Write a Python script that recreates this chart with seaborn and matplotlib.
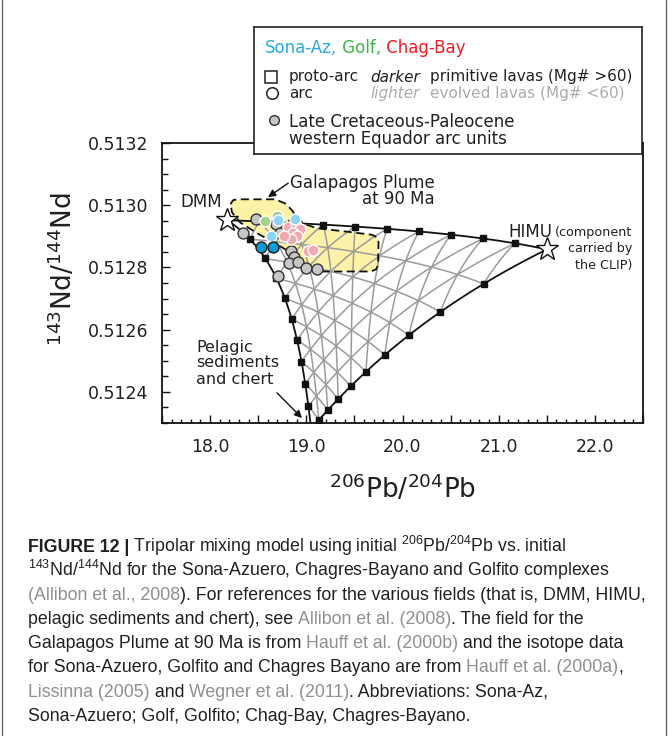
import numpy as np
import pandas as pd
import matplotlib
matplotlib.use("Agg")
import matplotlib.pyplot as plt
import seaborn as sns
from matplotlib import font_manager
from matplotlib.patches import Polygon
from matplotlib.ticker import FixedLocator, FuncFormatter, MultipleLocator

# ---------------- data ----------------
# end members of the tripolar mixing model (206Pb/204Pb, 143Nd/144Nd, relative Pb and Nd contents)
endmember_names = ["DMM", "HIMU", "Pelagic sediments and chert"]
endmember_pb = [18.18, 21.50, 19.05]
endmember_nd = [0.512952, 0.512858, 0.512281]
endmember_pb_conc = [1.0, 1.0, 3.3]
endmember_nd_conc = [1.0, 0.42, 0.90]
mix_steps = [0.1, 0.2, 0.3, 0.4, 0.5, 0.6, 0.7, 0.8, 0.9]

# Galapagos Plume at 90 Ma field
galapagos_pb = [18.212, 18.238, 18.280, 18.675, 18.779, 18.851, 18.914, 18.986, 19.111, 19.423,
                19.683, 19.735, 19.751, 19.745, 19.725, 19.673, 19.142, 19.049, 18.966, 18.799,
                18.623, 18.488, 18.311, 18.228]
galapagos_nd = [0.513003, 0.513016, 0.513019, 0.513019, 0.513006, 0.512984, 0.512955, 0.512939,
                0.512926, 0.512915, 0.512905, 0.512897, 0.512881, 0.512806, 0.512794, 0.512787,
                0.512787, 0.512794, 0.512806, 0.512855, 0.512887, 0.512910, 0.512945, 0.512977]

# Late Cretaceous-Paleocene western Ecuador arc units
ecuador_pb = [18.482, 18.337, 18.685, 18.727, 18.841, 18.872, 18.815, 18.914, 18.997, 19.111, 18.706]
ecuador_nd = [0.512955, 0.512910, 0.512939, 0.512910, 0.512852, 0.512832, 0.512813, 0.512816,
              0.512798, 0.512795, 0.512774]
# Chagres-Bayano, evolved arc lavas
chag_pb = [18.810, 18.893, 18.935, 18.862, 18.903, 18.841, 18.768, 19.018, 19.070]
chag_nd = [0.512929, 0.512935, 0.512923, 0.512910, 0.512900, 0.512890, 0.512900, 0.512852, 0.512855]
# Golfito, evolved arc lavas
golf_pb = [18.571, 18.692]
golf_nd = [0.512948, 0.512965]
# Sona-Azuero, evolved arc lavas
sona_evolved_pb = [18.709, 18.883, 18.630]
sona_evolved_nd = [0.512954, 0.512957, 0.512900]
# Sona-Azuero, primitive arc lavas
sona_primitive_pb = [18.529, 18.651]
sona_primitive_nd = [0.512866, 0.512866]

x_tick_values = [18.0, 19.0, 20.0, 21.0, 22.0]
x_tick_labels = ["18.0", "19.0", "20.0", "21.0", "22.0"]
y_tick_values = [0.5124, 0.5126, 0.5128, 0.5130, 0.5132]
y_tick_labels = ["0.5124", "0.5126", "0.5128", "0.5130", "0.5132"]

caption_lines = [
    [("FIGURE 12 |", "dark", "bold"),
     (" Tripolar mixing model using initial $^{\\mathregular{206}}$Pb/$^{\\mathregular{204}}$Pb vs. initial", "dark", "normal")],
    [("$^{\\mathregular{143}}$Nd/$^{\\mathregular{144}}$Nd for the Sona-Azuero, Chagres-Bayano and Golfito complexes", "dark", "normal")],
    [("(Allibon et al., 2008", "link", "normal"),
     ("). For references for the various fields (that is, DMM, HIMU,", "dark", "normal")],
    [("pelagic sediments and chert), see ", "dark", "normal"), ("Allibon et al. (2008)", "link", "normal"),
     (". The field for the", "dark", "normal")],
    [("Galapagos Plume at 90 Ma is from ", "dark", "normal"), ("Hauff et al. (2000b)", "link", "normal"),
     (" and the isotope data", "dark", "normal")],
    [("for Sona-Azuero, Golfito and Chagres Bayano are from ", "dark", "normal"),
     ("Hauff et al. (2000a)", "link", "normal"), (",", "dark", "normal")],
    [("Lissinna (2005)", "link", "normal"), (" and ", "dark", "normal"), ("Wegner et al. (2011)", "link", "normal"),
     (". Abbreviations: Sona-Az,", "dark", "normal")],
    [("Sona-Azuero; Golf, Golfito; Chag-Bay, Chagres-Bayano.", "dark", "normal")],
]

# ---------------- style ----------------
sns.set_style("ticks")
plt.rcParams["font.family"] = ["DejaVu Sans"]
plt.rcParams["mathtext.fontset"] = "dejavusans"
DARK = "#231f20"
LINK = "#8f8f8f"

W, H = 670, 736
fig = plt.figure(figsize=(W / 100, H / 100), dpi=100)
renderer = fig.canvas.get_renderer()

# full-figure overlay in pixel units (caption, border)
cap = fig.add_axes([0, 0, 1, 1], zorder=-5)
cap.set_xlim(0, W)
cap.set_ylim(H, 0)
cap.axis("off")

ax = fig.add_axes([162 / W, 1 - 423 / H, (643 - 162) / W, (423 - 143) / H], zorder=1)
ax.set_xlim(17.5, 22.5)
ax.set_ylim(0.5123, 0.5132)

# ---------------- mixing model ----------------
pb_e = np.array(endmember_pb)
nd_e = np.array(endmember_nd)
cpb = np.array(endmember_pb_conc)
cnd = np.array(endmember_nd_conc)


def mix(F):
    F = np.asarray(F, dtype=float)
    wp = F * cpb
    wn = F * cnd
    return (wp @ pb_e) / wp.sum(1), (wn @ nd_e) / wn.sum(1)


t = np.linspace(0, 1, 300)[:, None]
# interior grid lines (constant fraction of each component)
for a in mix_steps:
    fam = [
        np.hstack([np.full_like(t, a), (1 - a) * (1 - t), (1 - a) * t]),
        np.hstack([(1 - a) * (1 - t), np.full_like(t, a), (1 - a) * t]),
        np.hstack([(1 - a) * (1 - t), (1 - a) * t, np.full_like(t, a)]),
    ]
    for F in fam:
        gx, gy = mix(F)
        ax.plot(gx, gy, color="#9b9b9b", lw=1.1, zorder=2, solid_capstyle="butt")

# boundaries
z0 = np.zeros_like(t)
bounds = [np.hstack([1 - t, t, z0]), np.hstack([1 - t, z0, t]), np.hstack([z0, 1 - t, t])]
for F in bounds:
    bx, by = mix(F)
    ax.plot(bx, by, color="#111111", lw=1.3, zorder=3)

s = np.array(mix_steps)[:, None]
z1 = np.zeros_like(s)
for F in [np.hstack([1 - s, s, z1]), np.hstack([1 - s, z1, s]), np.hstack([z1, 1 - s, s])]:
    sx, sy = mix(F)
    ax.plot(sx, sy, ls="none", marker="s", ms=4, mfc="#111111", mec="#111111", zorder=4, clip_on=True)

# Galapagos field
poly = Polygon(np.column_stack([galapagos_pb, galapagos_nd]), closed=True,
               facecolor="#fdf2a6", edgecolor="none", zorder=1)
ax.add_patch(poly)
poly2 = Polygon(np.column_stack([galapagos_pb, galapagos_nd]), closed=True, fill=False,
                edgecolor="#111111", lw=1.3, linestyle=(0, (4.5, 2.5)), zorder=3.5)
ax.add_patch(poly2)

# ---------------- samples ----------------
groups = [
    (ecuador_pb, ecuador_nd, "#c6c6c6", "#333333"),
    (chag_pb, chag_nd, "#f4a8b0", "#ffffff"),
    (golf_pb, golf_nd, "#a3d08a", "#ffffff"),
    (sona_evolved_pb, sona_evolved_nd, "#8dd3f5", "#ffffff"),
    (sona_primitive_pb, sona_primitive_nd, "#0b9ad6", "#1a1a1a"),
]
for i, (gx, gy, fc, ec) in enumerate(groups):
    df = pd.DataFrame({"pb": gx, "nd": gy})
    sns.scatterplot(data=df, x="pb", y="nd", color=fc, edgecolor=ec, linewidth=1.0, s=62,
                    ax=ax, zorder=6 + i * 0.1, legend=False)

# end-member stars (DMM, HIMU)
ax.plot(endmember_pb[:2], endmember_nd[:2], ls="none", marker="*", ms=17, mfc="white",
        mec="#111111", mew=1.0, zorder=7)

# ---------------- annotations ----------------
ax.text(17.905, 0.513011, "DMM", fontsize=12, color=DARK, ha="center", va="center", zorder=8)
ax.text(18.831, 0.513071, "Galapagos Plume", fontsize=12, color=DARK, ha="left", va="center", zorder=8)
ax.text(20.338, 0.513019, "at 90 Ma", fontsize=12, color=DARK, ha="right", va="center", zorder=8)
ax.annotate("", xy=(18.602, 0.513026), xytext=(18.812, 0.513071),
            arrowprops=dict(arrowstyle="-|>", color="#111111", lw=1.0, mutation_scale=11,
                            shrinkA=0, shrinkB=0), zorder=8)
ax.text(21.325, 0.512914, "HIMU", fontsize=12, color=DARK, ha="center", va="center", zorder=8)
for txt, yy in zip(["(component", "carried by", "the CLIP)"], [0.512911, 0.512860, 0.512806]):
    ax.text(22.386, yy, txt, fontsize=9.2, color=DARK, ha="right", va="center", zorder=8)
for txt, yy in zip(["Pelagic", "sediments", "and chert"], [0.512543, 0.512495, 0.512441]):
    ax.text(17.853, yy, txt, fontsize=11.5, color=DARK, ha="left", va="center", zorder=8)
ax.annotate("", xy=(18.955, 0.512316), xytext=(18.695, 0.512397),
            arrowprops=dict(arrowstyle="-|>", color="#111111", lw=1.0, mutation_scale=11,
                            shrinkA=0, shrinkB=0), zorder=8)

# ---------------- axes styling ----------------
xt_map = dict(zip(x_tick_values, x_tick_labels))
yt_map = dict(zip([round(q, 5) for q in y_tick_values], y_tick_labels))
ax.xaxis.set_major_locator(FixedLocator(np.arange(17.5, 22.51, 0.5)))
ax.xaxis.set_major_formatter(FuncFormatter(lambda v, p: xt_map.get(round(v, 1), "")))
ax.xaxis.set_minor_locator(MultipleLocator(0.1))
ax.yaxis.set_major_locator(FixedLocator(y_tick_values))
ax.yaxis.set_major_formatter(FuncFormatter(lambda v, p: yt_map.get(round(v, 5), "")))
ax.yaxis.set_minor_locator(MultipleLocator(0.00005))
ax.tick_params(axis="both", which="both", direction="in", top=False, right=False,
               colors="#111111", labelcolor=DARK, width=1.0)
ax.tick_params(axis="x", which="major", length=6, pad=11, labelsize=12.5)
ax.tick_params(axis="x", which="minor", length=3)
ax.tick_params(axis="y", which="major", length=5.5, pad=10, labelsize=12.5)
ax.tick_params(axis="y", which="minor", length=4)
for sp in ax.spines.values():
    sp.set_visible(True)
    sp.set_linewidth(1.3)
    sp.set_color("#111111")
ax.set_xlabel("$^{206}$Pb/$^{204}$Pb", fontsize=19, color=DARK)
ax.set_ylabel("$^{143}$Nd/$^{144}$Nd", fontsize=19, color=DARK)
ax.xaxis.set_label_coords(0.5, -0.18)
ax.yaxis.set_label_coords(-0.175, 0.55)


# ---------------- rich text helper ----------------
def text_width(s, **kw):
    tt = fig.text(0, 0, s, **kw)
    w = tt.get_window_extent(renderer).width
    tt.remove()
    return w


def rich(axis, x, y, segments, **common):
    for s_, kw in segments:
        axis.text(x, y, s_, ha="left", **common, **kw)
        x += text_width(s_ + "x", **common, **kw) - text_width("x", **common, **kw)


# ---------------- legend box ----------------
leg = fig.add_axes([254 / W, 1 - 154 / H, (642 - 254) / W, (154 - 27) / H], zorder=10)
leg.set_xlim(254, 642)
leg.set_ylim(154, 27)
leg.set_xticks([])
leg.set_yticks([])
leg.set_facecolor("white")
for sp in leg.spines.values():
    sp.set_linewidth(1.2)
    sp.set_color(DARK)

LFS = 11
rich(leg, 265, 48, [("Sona-Az,", dict(color="#27aae1")), (" Golf,", dict(color="#3db54a")),
                    (" Chag-Bay", dict(color="#ed1c24"))], fontsize=12, va="center")
leg.plot([270.5], [76.5], marker="s", ms=8, mfc="white", mec=DARK, mew=1.1, ls="none")
leg.plot([271.5], [93], marker="o", ms=8.3, mfc="white", mec=DARK, mew=1.1, ls="none")
leg.plot([274], [120], marker="o", ms=7, mfc="#c6c6c6", mec="#333333", mew=1.0, ls="none")
leg.text(289, 77, "proto-arc", fontsize=LFS, color=DARK, va="center")
leg.text(289, 93.5, "arc", fontsize=LFS, color=DARK, va="center")
leg.text(370, 77, "darker", fontsize=LFS, color=DARK, style="italic", va="center")
leg.text(370, 93.5, "lighter", fontsize=LFS, color="#a9abae", style="italic", va="center")
leg.text(430, 77, "primitive lavas (Mg# >60)", fontsize=LFS, color=DARK, va="center")
leg.text(430, 93.5, "evolved lavas (Mg# <60)", fontsize=LFS, color="#a9abae", va="center")
leg.text(289, 122, "Late Cretaceous-Paleocene", fontsize=12, color=DARK, va="center")
leg.text(289, 138.5, "western Equador arc units", fontsize=12, color=DARK, va="center")

# ---------------- caption ----------------
names = {f.name for f in font_manager.fontManager.ttflist}
if "Liberation Sans Narrow" in names:
    cap_family = ["Liberation Sans Narrow", "DejaVu Sans"]
elif "Liberation Sans" in names:
    cap_family = ["Liberation Sans", "DejaVu Sans"]
else:
    cap_family = ["DejaVu Sans"]
ref_line = "(Allibon et al., 2008). For references for the various fields (that is, DMM, HIMU,"
w12 = text_width(ref_line, fontsize=12, family=cap_family)
cap_fs = 12 * 617 / w12
colors = {"dark": DARK, "link": LINK}
for i, line in enumerate(caption_lines):
    yb = 552 + i * 24.1
    segs = [(txt, dict(color=colors[c], weight=wt)) for txt, c, wt in line]
    rich(cap, 28, yb, segs, fontsize=cap_fs, family=cap_family, va="baseline")

# figure border
cap.plot([1.5, 1.5], [0, H], color="#666666", lw=1.0)
cap.plot([666, 666], [0, H], color="#666666", lw=1.0)

fig.savefig("out.png", dpi=100)
